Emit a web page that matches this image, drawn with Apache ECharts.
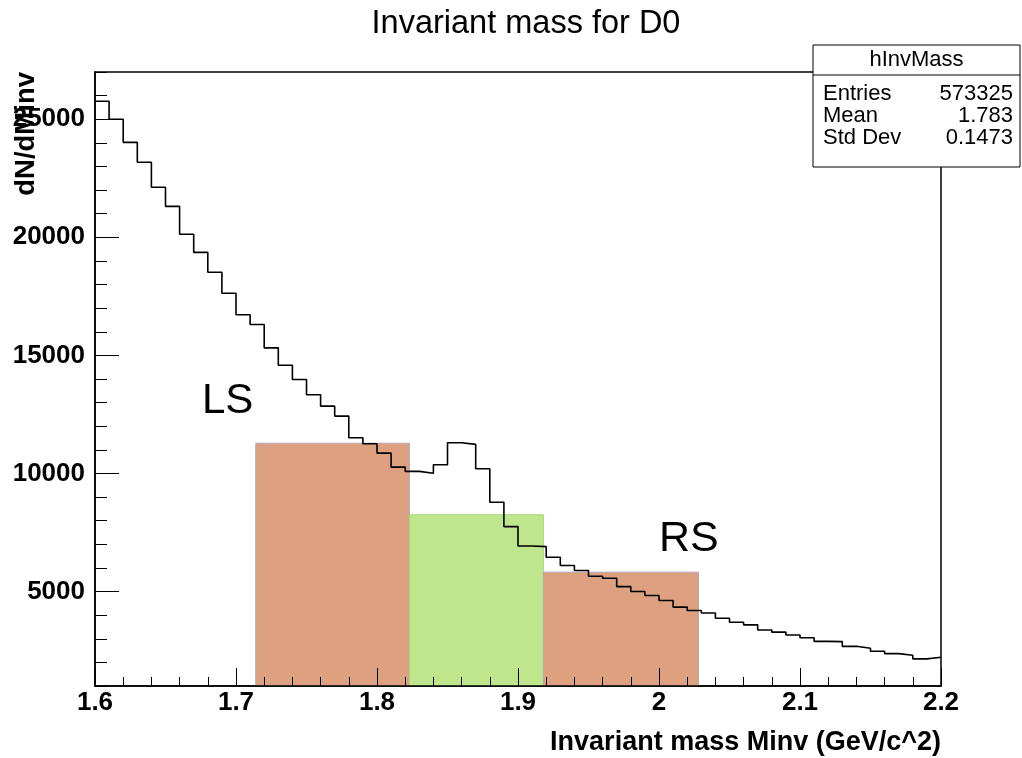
<!DOCTYPE html>
<html>
<head>
<meta charset="utf-8">
<script src="https://cdn.jsdelivr.net/npm/echarts@6/dist/echarts.min.js"></script>
<style>
html,body{margin:0;padding:0;background:#fff;}
#chart{width:1022px;height:758px;}
</style>
</head>
<body>
<div id="chart"></div>
<script>
// ---- data (60 bins, 1.6 .. 2.2) ----
const xMin = 1.6;
const xMax = 2.2;
const binWidth = 0.01;
const counts = [
  25760, 25000, 24020, 23180, 22120, 21310, 20130, 19360, 18520, 17630,
  16720, 16310, 15320, 14580, 13980, 13330, 12850, 12430, 11510, 11260,
  10860, 10270, 10090, 10010, 10370, 11300, 11230, 10200, 8780, 7750,
  6930, 6900, 6450, 6100, 5890, 5650, 5560, 5210, 5000, 4830,
  4620, 4340, 4200, 4090, 3870, 3700, 3590, 3370, 3280, 3160,
  3040, 2890, 2880, 2680, 2600, 2470, 2370, 2300, 2150, 2220
];
const yMin = 1000;
const yMax = 27000;
const yMajorTicks = [5000, 10000, 15000, 20000, 25000];
const yMinorTicks = [1000, 2000, 3000, 4000, 5000, 6000, 7000, 8000, 9000, 10000,
  11000, 12000, 13000, 14000, 15000, 16000, 17000, 18000, 19000, 20000,
  21000, 22000, 23000, 24000, 25000, 26000, 27000];
// side-band / signal regions
const regionNames = ['LS', 'Signal', 'RS'];
const regionLow = [1.714, 1.823, 1.918];
const regionHigh = [1.823, 1.918, 2.028];
const regionHeight = [11280, 8250, 5820];
// stats box
const statsTitle = 'hInvMass';
const statsLabels = ['Entries', 'Mean', 'Std Dev'];
const statsValues = ['573325', '1.783', '0.1473'];

const FONT = '"Liberation Sans", Arial, Helvetica, sans-serif';

const stepData = counts.map((c, i) => [+(xMin + i * binWidth).toFixed(4), c]);
stepData.push([xMax, counts[counts.length - 1]]);

const regionData = regionNames.map((n, i) => ({
  name: n,
  value: [regionLow[i], regionHigh[i], regionHeight[i]],
  itemStyle: n === 'Signal'
    ? { color: '#bee68c', borderColor: '#a6d976' }
    : { color: '#dda080', borderColor: '#b0a8b8' }
}));

const chart = echarts.init(document.getElementById('chart'), null, { renderer: 'canvas' });

const statsTop = 45, statsLeft = 813, statsW = 207, statsH = 122, rowH = 22;
function txt(x, y, text, font, align, z, rot) {
  return { type: 'text', z: z, x: x, y: y, rotation: rot || 0,
    style: { text: text, fill: '#000', font: font,
      textAlign: align, textVerticalAlign: 'middle', align: align, verticalAlign: 'middle' } };
}
const graphics = [
  { type: 'rect', z: 100, shape: { x: statsLeft, y: statsTop, width: statsW, height: statsH },
    style: { fill: '#fff', stroke: '#000', lineWidth: 1 } },
  { type: 'line', z: 101, shape: { x1: statsLeft, y1: 75, x2: statsLeft + statsW, y2: 75 },
    style: { stroke: '#000', lineWidth: 1 } },
  txt(statsLeft + statsW / 2, 60, statsTitle, '22px ' + FONT, 'center', 101),
  txt(26, 72, 'dN/dMinv', 'bold 27.5px ' + FONT, 'right', 50, Math.PI / 2),
  txt(202, 401, 'LS', '42px ' + FONT, 'left', 50),
  txt(659, 539, 'RS', '43px ' + FONT, 'left', 50)
];
statsLabels.forEach((lab, i) => {
  const y = 94 + i * rowH;
  graphics.push(txt(statsLeft + 10, y, lab, '22px ' + FONT, 'left', 101));
  graphics.push(txt(statsLeft + statsW - 7, y, statsValues[i], '22px ' + FONT, 'right', 101));
});

const option = {
  animation: false,
  backgroundColor: '#fff',
  title: {
    text: 'Invariant mass for D0',
    left: 521,
    textAlign: 'center',
    top: 3,
    textStyle: { fontFamily: FONT, fontSize: 32.5, fontWeight: 'normal', color: '#000' }
  },
  grid: {
    left: 95, right: 81, top: 72, bottom: 72,
    show: true, borderColor: '#000', borderWidth: 1.5, backgroundColor: 'transparent'
  },
  xAxis: {
    type: 'value',
    z: 10,
    min: xMin, max: xMax, interval: 0.1,
    name: 'Invariant mass Minv (GeV/c^2)',
    nameLocation: 'end',
    nameGap: 0,
    nameTextStyle: { fontFamily: FONT, fontSize: 27, fontWeight: 'bold', color: '#000',
      align: 'right', verticalAlign: 'top', padding: [43, 0, 0, 0] },
    axisLine: { show: true, lineStyle: { color: '#000', width: 1.5 } },
    axisTick: { show: true, inside: true, length: 18, lineStyle: { color: '#000', width: 1 } },
    minorTick: { show: true, splitNumber: 5, length: 9, lineStyle: { color: '#000', width: 1 } },
    axisLabel: { fontFamily: FONT, fontSize: 26, fontWeight: 'bold', color: '#000', margin: 4,
      showMinLabel: true, showMaxLabel: true },
    splitLine: { show: false }
  },
  yAxis: [{
    type: 'value',
    z: 10,
    min: yMin, max: yMax,
    axisLine: { show: true, lineStyle: { color: '#000', width: 1.5 } },
    axisTick: { show: true, inside: true, length: 24, customValues: yMajorTicks,
      lineStyle: { color: '#000', width: 1 } },
    axisLabel: { fontFamily: FONT, fontSize: 26, fontWeight: 'bold', color: '#000', margin: 10,
      customValues: yMajorTicks, formatter: v => String(v) },
    splitLine: { show: false }
  }, {
    type: 'value',
    z: 10,
    min: yMin, max: yMax,
    position: 'left',
    axisLine: { show: false },
    axisTick: { show: true, inside: true, length: 12, customValues: yMinorTicks,
      lineStyle: { color: '#000', width: 1 } },
    axisLabel: { show: false },
    splitLine: { show: false }
  }],
  series: [{
    type: 'custom',
    name: 'regions',
    z: 2,
    clip: true,
    data: regionData,
    renderItem: function (params, api) {
      const p0 = api.coord([api.value(0), api.value(2)]);
      const p1 = api.coord([api.value(1), yMin]);
      return {
        type: 'rect',
        shape: { x: p0[0], y: p0[1], width: p1[0] - p0[0], height: p1[1] - p0[1] },
        style: api.style({ lineWidth: 1 })
      };
    }
  }, {
    type: 'line',
    name: 'hInvMass',
    z: 3,
    step: 'end',
    showSymbol: false,
    symbol: 'none',
    data: stepData,
    lineStyle: { color: '#000', width: 1.6 }
  }],
  graphic: graphics
};
chart.setOption(option);
</script>
</body>
</html>
